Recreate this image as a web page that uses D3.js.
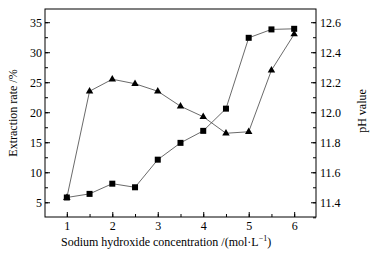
<!DOCTYPE html>
<html lang="en">
<head>
<meta charset="UTF-8">
<title>Extraction rate and pH</title>
<script src="https://d3js.org/d3.v7.min.js"></script>
<style>
    body { margin: 0; background: #fff; }
    text { font-family: "Liberation Serif", "Times New Roman", serif; fill: #000; }
</style>
</head>
<body>
<svg id="chart" width="377" height="254"></svg>
<script>
// Data
const concentration = [1, 1.5, 2, 2.5, 3, 3.5, 4, 4.5, 5, 5.5, 6];
const extractionRate = [5.8, 6.4, 8.1, 7.5, 12.1, 14.9, 16.9, 20.6, 32.4, 33.8, 33.9];
const phValue = [11.43, 12.14, 12.22, 12.19, 12.14, 12.04, 11.97, 11.86, 11.87, 12.28, 12.52];
const xTicks = [1, 2, 3, 4, 5, 6];
const leftTicks = [5, 10, 15, 20, 25, 30, 35];
const rightTicks = [11.4, 11.6, 11.8, 12.0, 12.2, 12.4, 12.6];

const margin = { top: 9, right: 61, bottom: 37, left: 45 };
const width = 377 - margin.left - margin.right;
const height = 254 - margin.top - margin.bottom;

const svg = d3.select("#chart");
const g = svg.append("g").attr("transform", `translate(${margin.left},${margin.top})`);

const x = d3.scaleLinear().domain([0.52, 6.48]).range([0, width]);
const yL = d3.scaleLinear().domain([2.55, 37.2]).range([height, 0]);
const yR = d3.scaleLinear().domain([11.302, 12.688]).range([height, 0]);

// frame
g.append("rect").attr("width", width).attr("height", height)
    .attr("fill", "none").attr("stroke", "#000").attr("stroke-width", 1);

// axes, ticks point inside the frame
function styleAxis(sel) {
    sel.select(".domain").remove();
    sel.selectAll("line").attr("stroke", "#000");
    sel.selectAll("text").style("font-size", "12px");
}

g.append("g").attr("transform", `translate(0,${height})`)
    .call(d3.axisBottom(x).tickValues(d3.range(1, 6.01, 0.5)).tickSize(-3).tickFormat(""))
    .call(styleAxis);
g.append("g").attr("transform", `translate(0,${height})`)
    .call(d3.axisBottom(x).tickValues(xTicks).tickSize(-5).tickPadding(4).tickFormat(d3.format("d")))
    .call(styleAxis);

g.append("g")
    .call(d3.axisLeft(yL).tickValues(d3.range(5, 37.1, 2.5)).tickSize(-3).tickFormat(""))
    .call(styleAxis);
g.append("g")
    .call(d3.axisLeft(yL).tickValues(leftTicks).tickSize(-5).tickPadding(3))
    .call(styleAxis);

g.append("g").attr("transform", `translate(${width},0)`)
    .call(d3.axisRight(yR).tickValues(d3.range(11.3, 12.69, 0.1)).tickSize(-3).tickFormat(""))
    .call(styleAxis);
g.append("g").attr("transform", `translate(${width},0)`)
    .call(d3.axisRight(yR).tickValues(rightTicks).tickSize(-5).tickPadding(4).tickFormat(d3.format(".1f")))
    .call(styleAxis);

// lines
const lineRate = d3.line().x((d, i) => x(concentration[i])).y(d => yL(d));
const linePh = d3.line().x((d, i) => x(concentration[i])).y(d => yR(d));

g.append("path").datum(extractionRate).attr("d", lineRate)
    .attr("fill", "none").attr("stroke", "#444").attr("stroke-width", 0.8);
g.append("path").datum(phValue).attr("d", linePh)
    .attr("fill", "none").attr("stroke", "#444").attr("stroke-width", 0.8);

// markers
g.selectAll(".sq").data(extractionRate).enter().append("rect")
    .attr("class", "sq")
    .attr("x", (d, i) => x(concentration[i]) - 3)
    .attr("y", d => yL(d) - 3)
    .attr("width", 6).attr("height", 6).attr("fill", "#000");

const tri = d3.symbol().type(d3.symbolTriangle).size(24);
g.selectAll(".tri").data(phValue).enter().append("path")
    .attr("class", "tri")
    .attr("d", tri)
    .attr("transform", (d, i) => `translate(${x(concentration[i])},${yR(d)})`)
    .attr("fill", "#000");

// titles
g.append("text")
    .attr("x", 16).attr("y", height + 28.5)
    .style("font-size", "12px")
    .html('Sodium hydroxide concentration /(mol·L<tspan dy="-5" font-size="8">−1</tspan><tspan dy="5">)</tspan>');

g.append("text")
    .attr("transform", `translate(-28,${height / 2}) rotate(-90)`)
    .attr("text-anchor", "middle").style("font-size", "12px")
    .text("Extraction rate /%");

g.append("text")
    .attr("transform", `translate(${width + 50},${height / 2 - 2}) rotate(-90)`)
    .attr("text-anchor", "middle").style("font-size", "12px")
    .text("pH value");
</script>
</body>
</html>
